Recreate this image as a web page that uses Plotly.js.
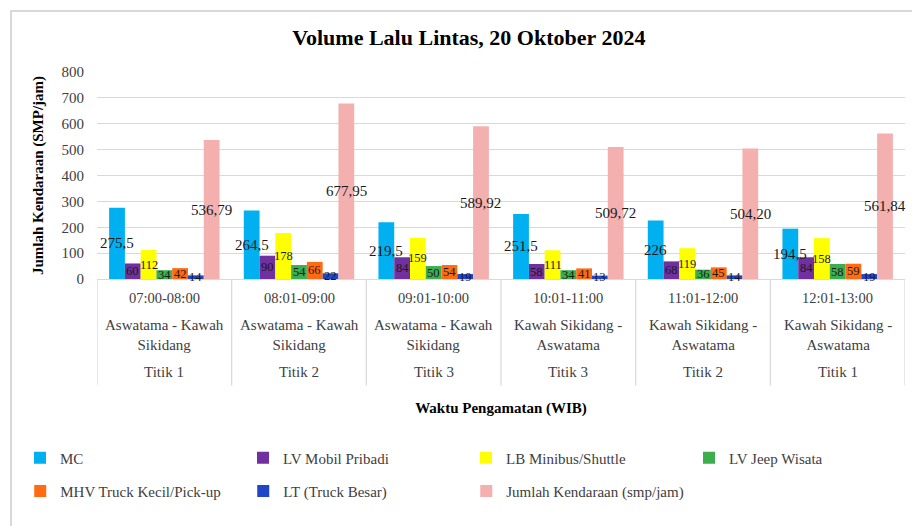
<!DOCTYPE html>
<html>
<head>
<meta charset="utf-8">
<script src="https://cdn.plot.ly/plotly-3.0.1.min.js"></script>
<style>
  html, body { margin: 0; padding: 0; background: #ffffff; }
  #wrap { position: relative; width: 912px; height: 526px; overflow: hidden; }
  #frame { position: absolute; left: 10px; top: 10px; width: 960px; height: 600px; border-left: 2px solid #d9d9d9; border-top: 2px solid #d9d9d9; box-sizing: border-box; pointer-events: none; z-index: 5; }
  #chart { position: absolute; left: 0; top: 0; width: 912px; height: 526px; }
</style>
</head>
<body>
<div id="wrap"><div id="chart"></div><div id="frame"></div></div>
<script>
// ---- data ----
const times = ["07:00-08:00", "08:01-09:00", "09:01-10:00", "10:01-11:00", "11:01-12:00", "12:01-13:00"];
const routes = ["Aswatama - Kawah<br>Sikidang", "Aswatama - Kawah<br>Sikidang", "Aswatama - Kawah<br>Sikidang",
                "Kawah Sikidang -<br>Aswatama", "Kawah Sikidang -<br>Aswatama", "Kawah Sikidang -<br>Aswatama"];
const titik = ["Titik 1", "Titik 2", "Titik 3", "Titik 3", "Titik 2", "Titik 1"];

const seriesNames = ["MC", "LV Mobil Pribadi", "LB Minibus/Shuttle", "LV Jeep Wisata",
                     "MHV Truck Kecil/Pick-up", "LT (Truck Besar)", "Jumlah Kendaraan (smp/jam)"];
const mc      = [275.5, 264.5, 219.5, 251.5, 226, 194.5];
const lvMobil = [60, 90, 84, 58, 68, 84];
const lbMini  = [112, 178, 159, 111, 119, 158];
const lvJeep  = [34, 54, 50, 34, 36, 58];
const mhv     = [42, 66, 54, 41, 45, 59];
const lt      = [14, 22, 19, 13, 14, 19];
const jumlah  = [536.79, 677.95, 589.92, 509.72, 504.20, 561.84];
const jumlahDecimals = 2;

const yTicks = [0, 100, 200, 300, 400, 500, 600, 700, 800];

// ---- style ----
const colors = ["#00B0F0", "#7030A0", "#FFFF00", "#3CAE4E", "#FF6A13", "#1F45C8", "#F4AFAF"];
const serif = "'Liberation Serif', 'Times New Roman', 'DejaVu Serif', serif";
const bargap = 0.18;

const allSeries = [mc, lvMobil, lbMini, lvJeep, mhv, lt, jumlah];
const nS = allSeries.length;

function fmt(v, dec) {
  const s = (dec != null) ? v.toFixed(dec) : String(v);
  return s.replace(".", ",");
}

const traces = allSeries.map((vals, j) => ({
  type: "bar",
  name: seriesNames[j],
  x: times,
  y: vals,
  marker: { color: colors[j], line: { width: 0 } },
  legend: j < 4 ? "legend" : "legend2",
  hoverinfo: "skip"
}));

const annotations = [];
// data labels centered in each bar
const w = (1 - bargap) / nS;
allSeries.forEach((vals, j) => {
  const big = (j === 0 || j === nS - 1);
  vals.forEach((v, i) => {
    annotations.push({
      xref: "x", yref: "y",
      x: i + (j - (nS - 1) / 2) * w,
      y: v / 2,
      text: fmt(v, j === nS - 1 ? jumlahDecimals : null),
      showarrow: false,
      font: { family: serif, size: big ? 15 : 12.5, color: "#1a1a1a" }
    });
  });
});
// category table text
times.forEach((t, i) => {
  annotations.push({ xref: "x", yref: "paper", x: i, y: -0.092, yanchor: "middle", text: t, showarrow: false,
    font: { family: serif, size: 14.5, color: "#404040" } });
  annotations.push({ xref: "x", yref: "paper", x: i, y: -0.27, yanchor: "middle", text: routes[i], showarrow: false,
    font: { family: serif, size: 15, color: "#404040" } });
  annotations.push({ xref: "x", yref: "paper", x: i, y: -0.45, yanchor: "middle", text: titik[i], showarrow: false,
    font: { family: serif, size: 15, color: "#404040" } });
});

// table separators
const shapes = [];
for (let i = 0; i <= times.length; i++) {
  shapes.push({ type: "line", xref: "x", yref: "paper", x0: i - 0.5, x1: i - 0.5, y0: 0, y1: -0.515,
    line: { color: "#d9d9d9", width: 1.2 } });
}

const legendCommon = {
  orientation: "h", x: -0.095, xanchor: "left", yanchor: "middle", yref: "paper",
  entrywidth: 178, entrywidthmode: "pixels", traceorder: "normal", itemwidth: 30,
  font: { family: serif, size: 15, color: "#404040" }, bgcolor: "rgba(0,0,0,0)"
};

const layout = {
  width: 912, height: 526,
  margin: { l: 97, r: 7, t: 72, b: 247 },
  paper_bgcolor: "#ffffff", plot_bgcolor: "#ffffff",
  font: { family: serif, color: "#404040" },
  barmode: "group", bargap: bargap, bargroupgap: 0,
  title: { text: "<b>Volume Lalu Lintas, 20 Oktober 2024</b>", xref: "container", yref: "container",
    x: 0.514, y: 0.93, xanchor: "center", yanchor: "middle",
    font: { family: serif, size: 22, color: "#000000" } },
  xaxis: {
    type: "category", showticklabels: false, showgrid: false, zeroline: false,
    showline: true, linecolor: "#d9d9d9", linewidth: 1.2,
    range: [-0.5, times.length - 0.5],
    title: { text: "<b>Waktu Pengamatan (WIB)</b>", standoff: 123, font: { family: serif, size: 15, color: "#000000" } }
  },
  yaxis: {
    range: [0, 800], tickvals: yTicks, ticktext: yTicks.map(String),
    showgrid: true, gridcolor: "#d9d9d9", gridwidth: 1.2, zeroline: false, showline: false,
    ticks: "", ticklabelstandoff: 12,
    tickfont: { family: serif, size: 15, color: "#404040" },
    title: { text: "<b>Jumlah Kendaraan (SMP/jam)</b>", standoff: 14, font: { family: serif, size: 15, color: "#000000" } }
  },
  showlegend: true,
  legend: Object.assign({}, legendCommon, { y: -0.865 }),
  legend2: Object.assign({}, legendCommon, { y: -1.025 }),
  annotations: annotations,
  shapes: shapes
};

Plotly.newPlot("chart", traces, layout, { displayModeBar: false, staticPlot: true });
</script>
</body>
</html>
